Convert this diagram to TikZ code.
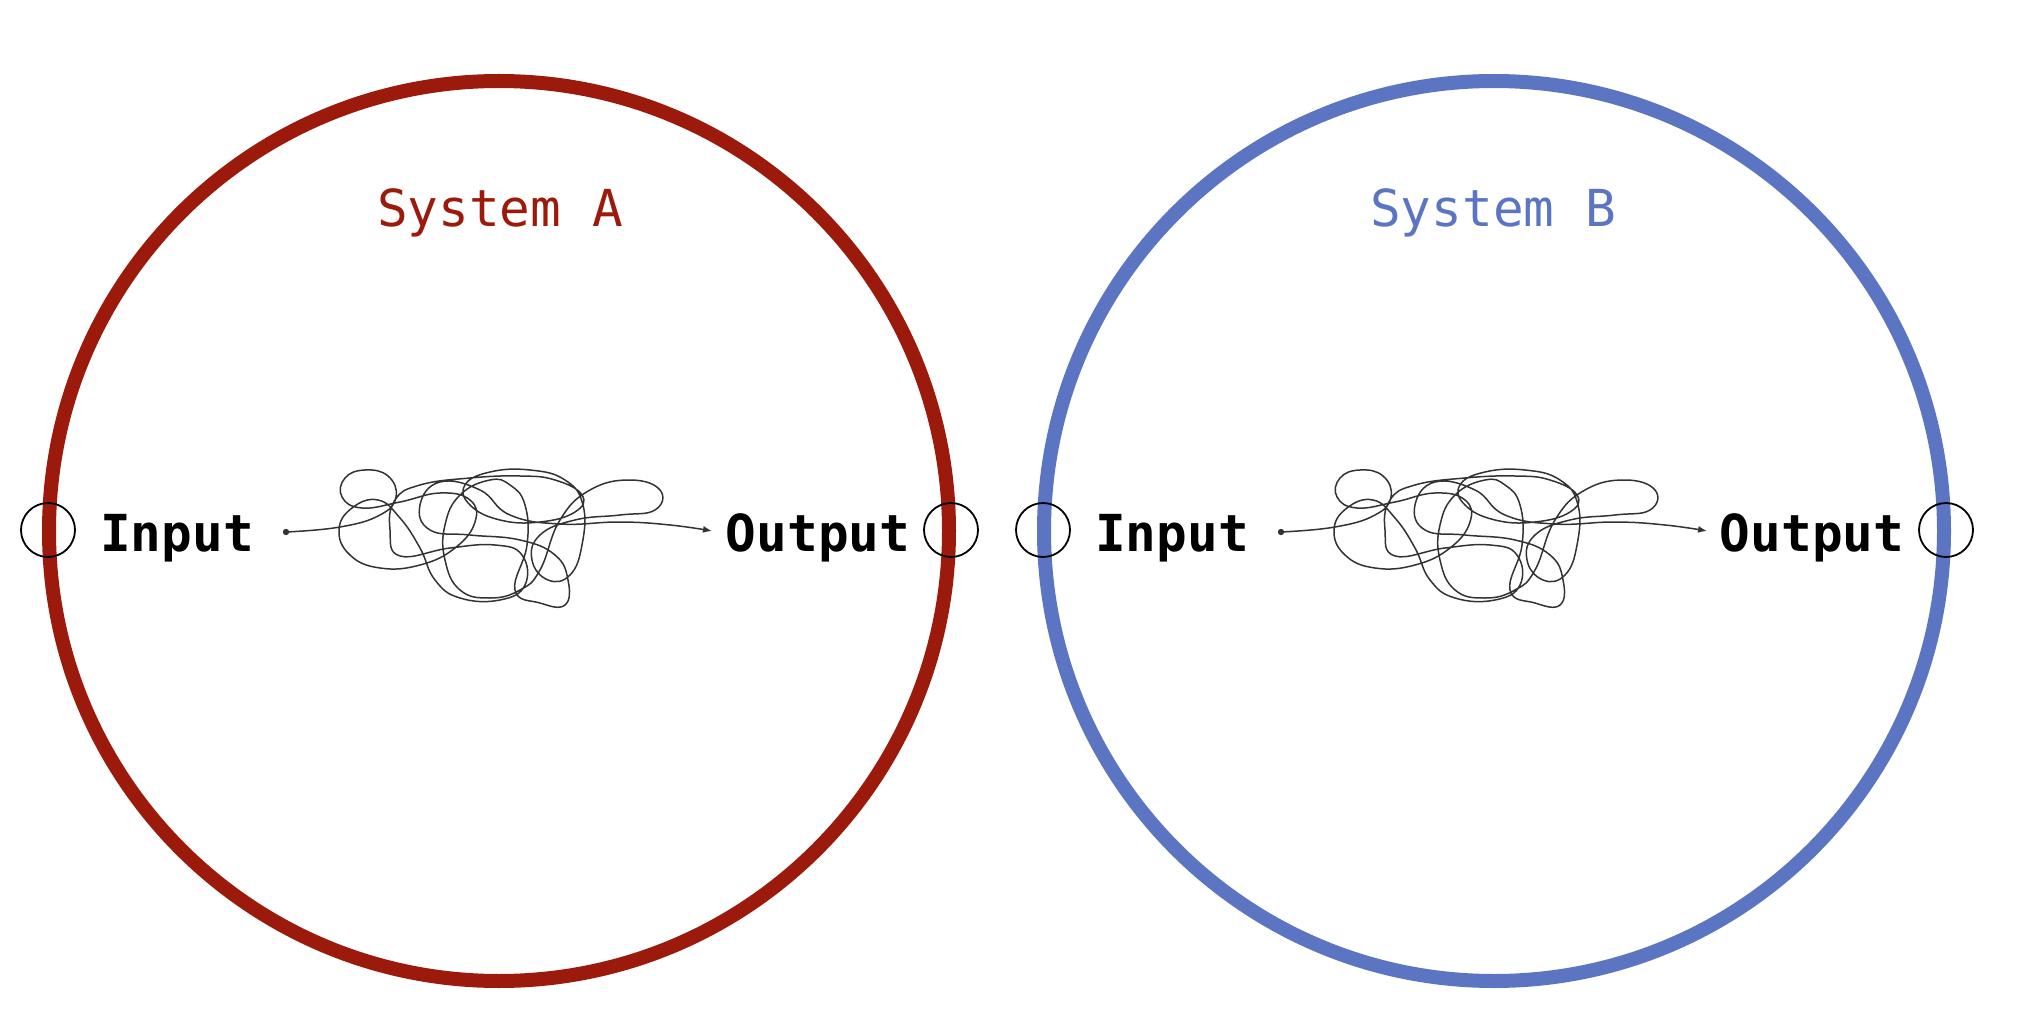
\documentclass[tikz,border=0pt]{standalone}
\usepackage{fontspec}
\setmonofont{DejaVu Sans Mono}
\usetikzlibrary{arrows.meta}
\definecolor{sysred}{HTML}{9C1A0B}
\definecolor{sysblue}{HTML}{5B75C2}
\definecolor{tanglecol}{HTML}{333333}
\tikzset{
  tangle/.pic={
    \fill[tanglecol] (286,532) circle (3.2);
    \draw[tanglecol, line width=1.5pt, -{Latex[length=9pt,width=7pt]}]
      plot[smooth, tension=0.75] coordinates {
        (286,532) (340,527) (380,515) (396,497) (388,476) (365,470) (345,478)
        (342,497) (362,508) (400,502) (440,493) (470,500) (475,522) (455,548)
        (420,565) (380,568) (350,555) (339,530) (352,508) (378,500) (400,518)
        (420,548) (435,580) (460,598) (500,600) (525,585) (522,555) (495,545)
        (450,548) (400,556) (390,530) (395,500) (420,485) (470,478) (520,476)
        (555,480) (582,495) (575,512) (540,522) (500,520) (470,505) (465,485)
        (490,472) (530,470) (565,480) (583,505) (582,545) (570,575) (548,580)
        (532,560) (540,535) (575,520) (620,515) (655,510) (660,490) (630,480)
        (590,490) (560,520) (540,570) (520,590) (490,598) (460,590) (445,560)
        (445,525) (460,495) (490,480) (510,485) (525,505) (527,545) (515,590)
        (540,603) (565,605) (568,580) (555,555) (520,540) (470,535) (430,530)
        (420,505) (440,482) (480,490) (510,515) (560,524) (620,522) (670,525)
        (712,531)};
  }
}
\begin{document}
\begin{tikzpicture}[x=1pt,y=-1pt,
  system/.style={draw, circle, line width=14pt, minimum size=900pt, inner sep=0pt},
  port/.style={draw, circle, line width=1.8pt, minimum size=54pt, inner sep=0pt},
  iolabel/.style={anchor=base, font=\ttfamily\bfseries\fontsize{51}{60}\selectfont, inner sep=0pt},
  systitle/.style={anchor=base, font=\ttfamily\fontsize{51}{60}\selectfont, inner sep=0pt}]
\useasboundingbox (0,0) rectangle (2019,1024);

% System A
\node[system, draw=sysred] (sysA) at (499,531) {};
\node[port] (inA) at (48,530) {};
\node[port] (outA) at (951,530) {};
\node[systitle, text=sysred] (titleA) at (500,227) {System A};
\node[iolabel] (inlabA) at (177,551) {Input};
\node[iolabel] (outlabA) at (818,551) {Output};
\pic at (0,0) {tangle};

% System B
\node[system, draw=sysblue] (sysB) at (1494,531) {};
\node[port] (inB) at (1043,530) {};
\node[port] (outB) at (1946,530) {};
\node[systitle, text=sysblue] (titleB) at (1493,227) {System B};
\node[iolabel] (inlabB) at (1172,551) {Input};
\node[iolabel] (outlabB) at (1812,551) {Output};
\pic at (995,0) {tangle};
\end{tikzpicture}
\end{document}
